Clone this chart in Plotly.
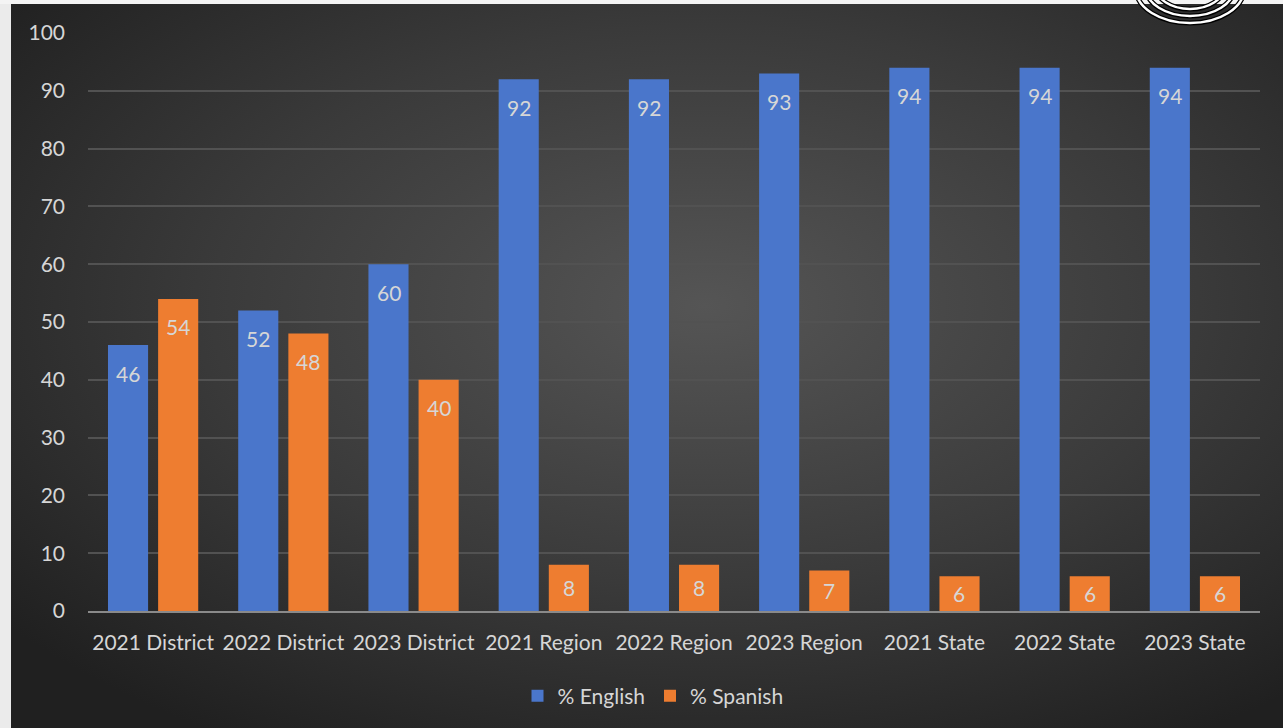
import base64
import plotly.graph_objects as go

categories = ["2021 District", "2022 District", "2023 District", "2021 Region", "2022 Region",
              "2023 Region", "2021 State", "2022 State", "2023 State"]
english = [46, 52, 60, 92, 92, 93, 94, 94, 94]
spanish = [54, 48, 40, 8, 8, 7, 6, 6, 6]
y_ticks = [0, 10, 20, 30, 40, 50, 60, 70, 80, 90, 100]

W, H = 1283, 728
ML, MR, MT, MB = 88, 23, 33, 117
PW, PH = W - ML - MR, H - MT - MB

def px(x):
    return (x - ML) / PW

def py(y):
    return (H - MB - y) / PH

svg = f'''<svg xmlns="http://www.w3.org/2000/svg" width="{W}" height="{H}">
<defs><radialGradient id="g" cx="55%" cy="42%" r="70%">
<stop offset="0%" stop-color="#555555"/><stop offset="55%" stop-color="#3a3a3a"/>
<stop offset="100%" stop-color="#202020"/></radialGradient></defs>
<rect width="{W}" height="{H}" fill="url(#g)"/></svg>'''
bg = "data:image/svg+xml;base64," + base64.b64encode(svg.encode()).decode()

fig = go.Figure()
fig.add_trace(go.Bar(x=categories, y=english, name="% English",
                     marker=dict(color="#4a76cb", line=dict(width=0))))
fig.add_trace(go.Bar(x=categories, y=spanish, name="% Spanish",
                     marker=dict(color="#ee7d30", line=dict(width=0))))

unit = PH / 100
annotations = []
for cat, e, s in zip(categories, english, spanish):
    for v, dx in ((e, -25), (s, 25)):
        annotations.append(dict(x=cat, y=v, xref="x", yref="y", text=str(v), showarrow=False,
                                xshift=dx, yshift=-min(28, v * unit / 2),
                                font=dict(family="Lato", size=21, color="#d6d6d6")))

shapes = [
    dict(type="rect", xref="paper", yref="paper", x0=px(0), x1=px(11), y0=py(H), y1=py(0),
         fillcolor="#ebebeb", line=dict(width=0), layer="above"),
    dict(type="rect", xref="paper", yref="paper", x0=px(0), x1=px(W), y0=py(4), y1=py(-2),
         fillcolor="#f4f4f4", line=dict(width=0), layer="above"),
]
for (x0, x1, y0, y1) in [(1136, 1244, -45, 23), (1146, 1234, -40, 16), (1156, 1224, -35, 9)]:
    shapes.append(dict(type="circle", xref="paper", yref="paper", x0=px(x0), x1=px(x1),
                       y0=py(y1), y1=py(y0), line=dict(color="black", width=5), layer="above"))
    shapes.append(dict(type="circle", xref="paper", yref="paper", x0=px(x0), x1=px(x1),
                       y0=py(y1), y1=py(y0), line=dict(color="white", width=2.5), layer="above"))

fig.update_layout(
    width=W, height=H,
    margin=dict(l=ML, r=MR, t=MT, b=MB, pad=0),
    paper_bgcolor="#2e2e2e", plot_bgcolor="rgba(0,0,0,0)",
    barmode="group", bargap=0.23, bargroupgap=0.2,
    font=dict(family="Lato", size=21, color="#d6d6d6"),
    showlegend=True,
    legend=dict(orientation="h", x=px(653), xanchor="center", y=py(696), yanchor="middle",
                font=dict(size=21, color="#d6d6d6"), bgcolor="rgba(0,0,0,0)",
                itemwidth=30, traceorder="normal"),
    xaxis=dict(showgrid=False, showline=True, linecolor="#8a8a8a", linewidth=2,
               ticks="", tickfont=dict(size=21, color="#d6d6d6"), ticklabelstandoff=12),
    yaxis=dict(range=[0, 100], tickvals=y_ticks, showgrid=True, gridcolor="#525252", gridwidth=1.5,
               zeroline=False, showline=False, ticks="", ticklabelstandoff=22,
               tickfont=dict(size=21, color="#d6d6d6")),
    annotations=annotations,
    shapes=shapes,
    images=[dict(source=bg, xref="paper", yref="paper", x=px(0), y=py(0), sizex=W / PW, sizey=H / PH,
                 xanchor="left", yanchor="top", sizing="stretch", layer="below")],
)

fig.write_html("out.html")
